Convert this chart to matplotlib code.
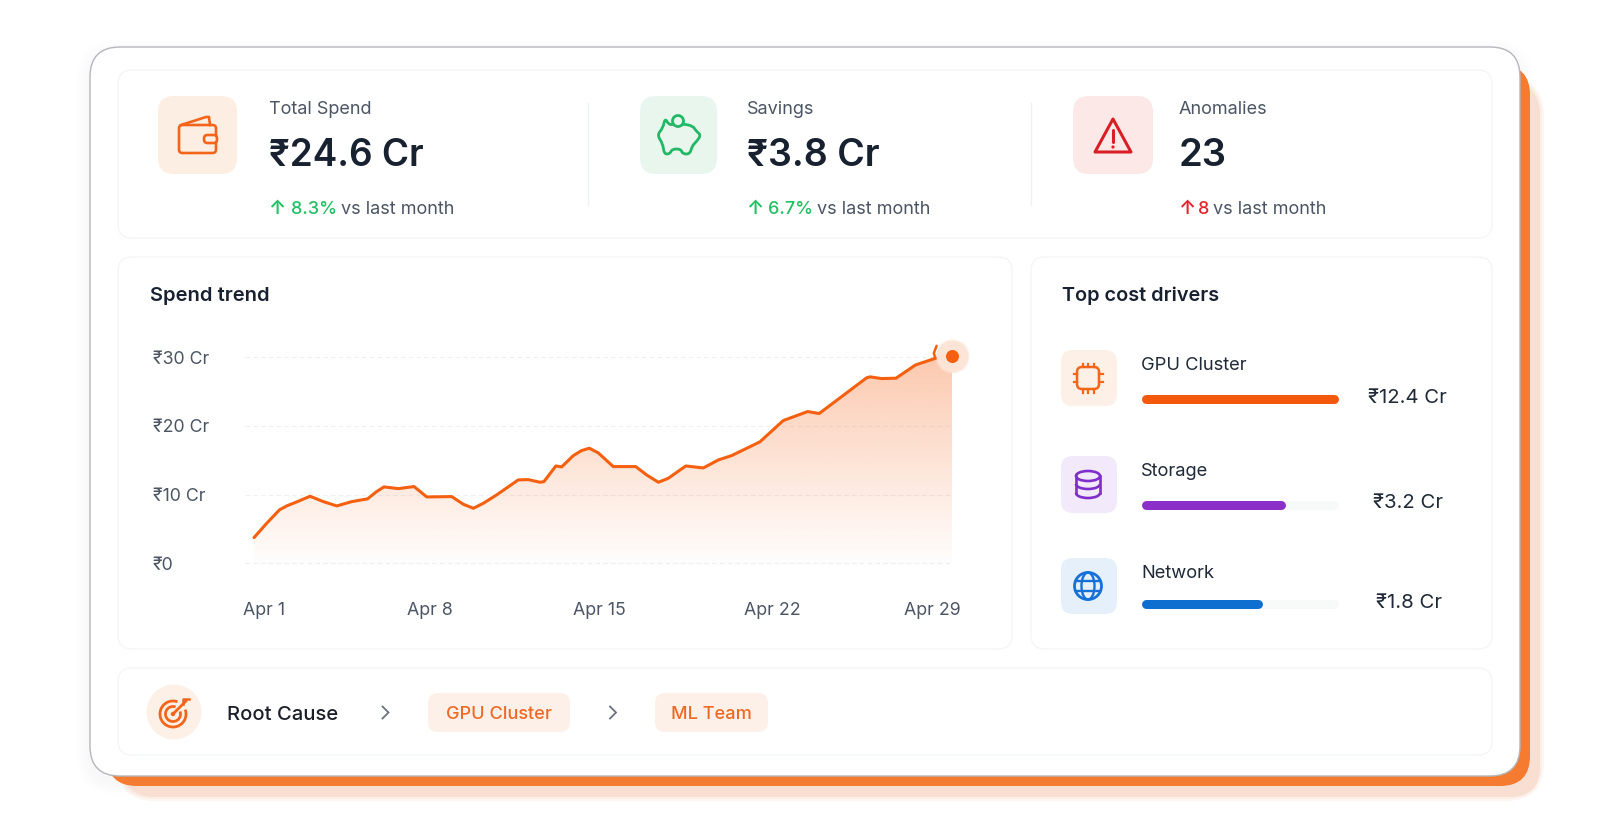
import numpy as np
import matplotlib
matplotlib.use("Agg")
import matplotlib.pyplot as plt
from matplotlib.patches import FancyBboxPatch, Circle, Ellipse, Polygon, Arc, PathPatch
from matplotlib.path import Path

plt.rcParams['font.family'] = ['Inter', 'Noto Sans', 'DejaVu Sans']

# ---- data ----
trend_day = [1.00, 1.51, 2.02, 2.31, 2.71, 3.25, 3.78, 4.32, 4.92, 5.55, 5.92, 6.21, 6.79, 7.42,
             7.93, 8.93, 9.40, 9.80, 10.20, 10.73, 11.60, 12.00, 12.47, 12.63, 13.11, 13.34,
             13.81, 14.14, 14.45, 14.81, 15.41, 16.31, 16.75, 17.22, 17.62, 18.32, 19.02,
             19.63, 20.16, 21.29, 22.23, 23.21, 23.67, 25.57, 25.71, 26.17, 26.75, 27.54,
             28.31, 29.00]
trend_cr = [3.74, 5.83, 7.77, 8.35, 8.93, 9.76, 8.98, 8.35, 8.98, 9.37, 10.44, 11.12, 10.87, 11.17,
            9.66, 9.71, 8.59, 8.01, 8.74, 9.95, 12.14, 12.18, 11.80, 11.89, 14.17, 14.03,
            15.68, 16.41, 16.75, 16.07, 14.08, 14.08, 12.86, 11.80, 12.38, 14.17, 13.88,
            15.05, 15.68, 17.67, 20.78, 22.09, 21.80, 26.99, 27.14, 26.89, 26.94, 28.88,
            29.81, 30.24]
hook_day = [28.38, 28.27, 28.33]
hook_cr = [31.65, 30.58, 29.81]
y_ticks = [0, 10, 20, 30]
y_labels = ['₹0', '₹10 Cr', '₹20 Cr', '₹30 Cr']
x_tick_days = [1.40, 8.06, 14.84, 21.78, 28.20]
x_labels = ['Apr 1', 'Apr 8', 'Apr 15', 'Apr 22', 'Apr 29']

kpi_names = ['Total Spend', 'Savings', 'Anomalies']
kpi_values = ['₹24.6 Cr', '₹3.8 Cr', '23']
kpi_changes = ['8.3%', '6.7%', '8']

driver_names = ['GPU Cluster', 'Storage', 'Network']
driver_values = ['₹12.4 Cr', '₹3.2 Cr', '₹1.8 Cr']
driver_share = [100, 72.3, 60.1]   # drawn bar length, % of track

root_chain = ['GPU Cluster', 'ML Team']

# ---- style ----
ORANGE = '#f4600f'
DARK = '#182130'
GRAY = '#4b5563'
GREEN = '#22bf63'
RED = '#e0262c'
PX = 0.72

fig = plt.figure(figsize=(16, 8.35), dpi=100, facecolor='white')
bg = fig.add_axes([0, 0, 1, 1])
bg.set_xlim(0, 1600)
bg.set_ylim(835, 0)
bg.axis('off')


def rbox(ax, x0, y0, x1, y1, r, fc='white', ec='none', lw=0, alpha=None, z=1):
    p = FancyBboxPatch((x0, y0), x1 - x0, y1 - y0, boxstyle=f'round,pad=0,rounding_size={r}',
                       fc=fc, ec=ec, lw=lw, alpha=alpha, zorder=z)
    ax.add_patch(p)
    return p


def smooth_closed(pts):
    """Closed outline through the midpoints of pts, using pts as quadratic control points."""
    pts = np.asarray(pts, float)
    mids = (pts + np.roll(pts, -1, axis=0)) / 2
    verts = [mids[-1]]
    codes = [Path.MOVETO]
    for p, m in zip(pts, mids):
        verts += [p, m]
        codes += [Path.CURVE3, Path.CURVE3]
    return Path(verts, codes)


# outer soft shadows
for g in range(14, 0, -2):
    rbox(bg, 90 - g, 47 - g + 6, 1520 + g, 776 + g + 6, 30 + g, fc='#8a8a8a', alpha=0.004, z=0.5)
for g in range(8, -1, -2):
    rbox(bg, 125 - g, 85 - g, 1536 + g, 793 + g, 30 + g, fc='#f3b79a', alpha=0.12, z=0.6)
rbox(bg, 125, 85, 1540, 797, 30, fc='#f8dfd2', z=0.7)
rbox(bg, 107, 65, 1530, 786, 30, fc='#f47b30', z=0.8)
rbox(bg, 90, 47, 1520, 776, 30, fc='white', ec='#b4b6ba', lw=1.0, z=1)

# panels
PANEL_EC = '#f4f5f6'
rbox(bg, 118, 70, 1492, 238, 14, ec=PANEL_EC, lw=1, z=2)
rbox(bg, 118, 257, 1012, 649, 14, ec=PANEL_EC, lw=1, z=2)
rbox(bg, 1031, 257, 1492, 649, 14, ec=PANEL_EC, lw=1, z=2)
rbox(bg, 118, 668, 1492, 755, 14, ec=PANEL_EC, lw=1, z=2)

# KPI row
tile_x = [(158, 237), (640, 717), (1073, 1153)]
tile_c = ['#fdeee4', '#e8f6ee', '#fde8e8']
text_x = [269, 747, 1179]
value_size = [26.6, 27, 27.5]
arrow_c = [GREEN, GREEN, RED]
chg_x = [291, 768, 1198]
vs_x = [341, 817, 1213]
for i in range(3):
    rbox(bg, tile_x[i][0], 96, tile_x[i][1], 174, 16, fc=tile_c[i], z=3)
    bg.text(text_x[i], 109, kpi_names[i], fontsize=13, color=GRAY, va='center', ha='left', zorder=4)
    bg.text(text_x[i], 156.5, kpi_values[i], fontsize=value_size[i], color=DARK, fontweight='semibold',
            va='center', ha='left', zorder=4)
    bg.text(text_x[i] - 1, 209, '↑', fontsize=14, color=arrow_c[i], fontweight='semibold',
            va='center', ha='left', zorder=4)
    bg.text(chg_x[i], 209, kpi_changes[i], fontsize=13, color=arrow_c[i], fontweight='medium',
            va='center', ha='left', zorder=4)
    bg.text(vs_x[i], 209, 'vs last month', fontsize=13, color=GRAY, va='center', ha='left', zorder=4)
for x in (588, 1031):
    bg.plot([x, x], [103, 205], color='#eef0f2', lw=1, zorder=3)

# wallet icon
WC = '#f2651b'
rbox(bg, 179, 125, 216, 153, 3.5, fc='none', ec=WC, lw=1.9, z=4)
bg.plot([181, 206, 209, 210], [125, 117, 117, 125], color=WC, lw=1.9, solid_joinstyle='round', zorder=4)
rbox(bg, 204, 135, 217, 143, 3.5, fc='#fdeee4', ec=WC, lw=1.9, z=5)

# piggy icon
pig = np.array([(-14, -17), (-10, -10), (-5.5, -11), (4.5, -11), (14, -9), (17, -4), (22, 0), (18, 6),
                (13, 11), (11, 19), (3.5, 19), (2, 14), (-7, 14), (-9, 19), (-15, 19), (-16, 9),
                (-22, 0), (-16, -7)], float) + (679, 135)
bg.add_patch(PathPatch(smooth_closed(pig), fc='none', ec='#22b866', lw=2, joinstyle='round', zorder=4))
bg.add_patch(Circle((678, 121), 5.5, fc='#e8f6ee', ec='#22b866', lw=2, zorder=5))

# alert icon
bg.add_patch(Polygon([(1113, 119), (1131, 152), (1095, 152)], closed=True, fc='none', ec='#d81f26',
                     lw=2.2, joinstyle='round', zorder=4))
bg.plot([1113, 1113], [130, 142], color='#d81f26', lw=2.2, solid_capstyle='round', zorder=4)
bg.add_patch(Circle((1113, 147), 1.6, fc='#d81f26', ec='none', zorder=4))

# section titles
bg.text(150, 296, 'Spend trend', fontsize=14.5, fontweight='semibold', color=DARK, va='center', zorder=4)
bg.text(1062, 296, 'Top cost drivers', fontsize=14.3, fontweight='semibold', color=DARK, va='center', zorder=4)

# ---- trend chart ----
L, R, T, B = 245, 965, 330, 570
ax = fig.add_axes([L / 1600, 1 - B / 835, (R - L) / 1600, (B - T) / 835])
ax.patch.set_alpha(0)
xlim = (1 + (L - 254) / 24.93, 1 + (R - 254) / 24.93)
ylim = ((563.3 - B) / 6.87, (563.3 - T) / 6.87)
for s in ax.spines.values():
    s.set_visible(False)
ax.hlines(y_ticks, xlim[0], trend_day[-1], colors='#eff0f2', lw=0.8, linestyles=(0, (4, 3)), zorder=1)

x0, x1 = trend_day[0], trend_day[-1]
ytop = max(trend_cr)
grad = np.zeros((256, 2, 4))
grad[..., :3] = matplotlib.colors.to_rgb('#f7702a')
grad[..., 3] = np.linspace(0.38, 0, 256)[:, None]
im = ax.imshow(grad, extent=(x0, x1, -0.9, ytop), origin='upper', aspect='auto', zorder=2, interpolation='bilinear')
clip = Polygon(list(zip(trend_day, trend_cr)) + [(x1, -0.9), (x0, -0.9)], closed=True, transform=ax.transData,
               fc='none', ec='none')
ax.add_patch(clip)
im.set_clip_path(clip)
ax.set_xlim(*xlim)
ax.set_ylim(*ylim)

ax.plot(trend_day, trend_cr, color=ORANGE, lw=2.2, solid_joinstyle='round', solid_capstyle='round', zorder=3)
for ms, a in ((35, 0.25), (33, 0.5)):
    ax.plot(trend_day[-1], trend_cr[-1], 'o', ms=ms * PX, color='#fce4d6', mec='none', zorder=4, clip_on=False, alpha=a)
ax.plot(trend_day[-1], trend_cr[-1], 'o', ms=31 * PX, color='#fce4d6', mec='none', zorder=4, clip_on=False, alpha=0.95)
ax.plot(trend_day[-1], trend_cr[-1], 'o', ms=13 * PX, color=ORANGE, mec='none', zorder=6, clip_on=False)
ax.plot(hook_day, hook_cr, color=ORANGE, lw=1.8, solid_capstyle='round', zorder=5, clip_on=False)

ax.set_xticks(x_tick_days, x_labels)
ax.set_yticks(y_ticks, y_labels)
ax.tick_params(axis='both', length=0, labelsize=12.8, labelcolor=GRAY)
ax.tick_params(axis='y', pad=92 * PX)
ax.tick_params(axis='x', pad=32 * PX)
for t in ax.get_yticklabels():
    t.set_ha('left')

# ---- drivers ----
dtile_y = [(350, 406), (456, 513), (558, 614)]
dtile_c = ['#fdf0e7', '#f2e9fb', '#e6f0fb']
name_y = [365, 472, 573]
bar_y = [398.5, 504.5, 603.5]
val_x = [1368, 1373, 1376]
val_y = [398, 503, 603]
bar_c = ['#f4580c', '#8b2fc9', '#0f6fd0']
for i in range(3):
    rbox(bg, 1061, dtile_y[i][0], 1117, dtile_y[i][1], 12, fc=dtile_c[i], z=3)
    bg.text(1141, name_y[i], driver_names[i], fontsize=13.2, color='#1f2937', va='center', zorder=4)
    bg.text(val_x[i], val_y[i], driver_values[i], fontsize=14.6, color='#1f2937', va='center', zorder=4)

bax = fig.add_axes([1145.5 / 1600, 1 - 640 / 835, 188 / 1600, 270 / 835])
bax.patch.set_alpha(0)
bax.axis('off')
bax.set_xlim(0, 100)
bax.set_ylim(640, 370)
for i in range(3):
    bax.plot([0, 100], [bar_y[i]] * 2, color='#f8f9f9', lw=9 * PX, solid_capstyle='round', zorder=1, clip_on=False)
    bax.plot([0, driver_share[i]], [bar_y[i]] * 2, color=bar_c[i], lw=9 * PX, solid_capstyle='round', zorder=2,
             clip_on=False)

# chip icon
CC = '#f2651b'
rbox(bg, 1077, 367, 1099, 389, 5, fc='none', ec=CC, lw=1.8, z=4)
for d in (-5.5, 0, 5.5):
    bg.plot([1088 + d] * 2, [363.5, 367], color=CC, lw=1.6, zorder=4)
    bg.plot([1088 + d] * 2, [389, 392.5], color=CC, lw=1.6, zorder=4)
for d in (-4, 4):
    bg.plot([1073.5, 1077], [378 + d] * 2, color=CC, lw=1.6, zorder=4)
    bg.plot([1099, 1102.5], [378 + d] * 2, color=CC, lw=1.6, zorder=4)

# database icon
DC = '#7e2ecb'
bg.add_patch(Ellipse((1088, 476), 24, 10, fc='none', ec=DC, lw=1.9, zorder=4))
bg.add_patch(Arc((1088, 484), 24, 10, theta1=0, theta2=180, ec=DC, lw=1.9, zorder=4))
bg.add_patch(Arc((1088, 493), 24, 10, theta1=0, theta2=180, ec=DC, lw=1.9, zorder=4))
bg.plot([1076, 1076], [476, 493], color=DC, lw=1.9, zorder=4)
bg.plot([1100, 1100], [476, 493], color=DC, lw=1.9, zorder=4)

# globe icon
GC = '#1570d8'
bg.add_patch(Circle((1088, 586), 13.5, fc='none', ec=GC, lw=2, zorder=4))
bg.add_patch(Ellipse((1088, 586), 13, 27, fc='none', ec=GC, lw=1.7, zorder=4))
bg.plot([1076, 1100], [581, 581], color=GC, lw=1.7, zorder=4)
bg.plot([1076, 1100], [591, 591], color=GC, lw=1.7, zorder=4)

# ---- root cause ----
bg.add_patch(Circle((174, 712), 27.5, fc='#fdf0e7', ec='none', zorder=3))
TC = '#f2651b'
bg.add_patch(Arc((173, 714), 26, 26, theta1=-20, theta2=290, ec=TC, lw=2, zorder=4))
bg.add_patch(Arc((173, 714), 15, 15, theta1=-20, theta2=290, ec=TC, lw=2, zorder=4))
bg.add_patch(Circle((173, 714), 2.2, fc=TC, ec='none', zorder=4))
bg.plot([173, 186], [714, 701], color=TC, lw=2, solid_capstyle='round', zorder=4)
bg.plot([183, 183, 189], [704, 699, 699], color=TC, lw=1.8, zorder=4)

bg.text(227, 714.5, 'Root Cause', fontsize=14.5, fontweight='medium', color='#1a1f29', va='center', zorder=4)
for cx in (385.5, 613):
    bg.plot([cx - 3, cx + 3, cx - 3], [706.5, 712.5, 718.5], color='#6b7280', lw=1.3,
            solid_joinstyle='miter', zorder=4)
chip_x = [(428, 570), (655, 768)]
for i in range(2):
    rbox(bg, chip_x[i][0], 693, chip_x[i][1], 732, 10, fc='#fdf0e8', z=3)
    bg.text(sum(chip_x[i]) / 2, 714.5, root_chain[i], fontsize=13.1, fontweight='medium', color='#ee6a24',
            va='center', ha='center', zorder=4)

fig.savefig('out.png', dpi=100, facecolor='white')
